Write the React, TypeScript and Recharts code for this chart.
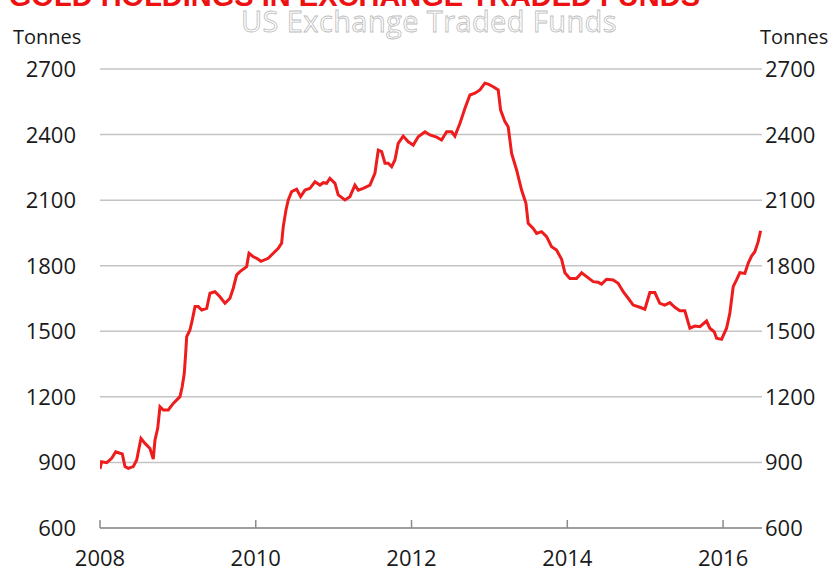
import React from 'react';
import { LineChart, Line, XAxis, YAxis, CartesianGrid } from 'recharts';

// time in fractional years, holdings in tonnes
const dates = [
  2008.0, 2008.02, 2008.086, 2008.15, 2008.202, 2008.257, 2008.286, 2008.321, 2008.363, 2008.427,
  2008.471, 2008.526, 2008.578, 2008.642, 2008.684, 2008.706, 2008.741, 2008.77, 2008.813, 2008.877,
  2008.941, 2009.027, 2009.056, 2009.082, 2009.1, 2009.113, 2009.155, 2009.185, 2009.22, 2009.262,
  2009.306, 2009.37, 2009.412, 2009.476, 2009.54, 2009.605, 2009.669, 2009.711, 2009.755, 2009.797,
  2009.883, 2009.913, 2009.968, 2010.012, 2010.067, 2010.16, 2010.225, 2010.289, 2010.332, 2010.353,
  2010.388, 2010.417, 2010.461, 2010.525, 2010.576, 2010.632, 2010.696, 2010.76, 2010.824, 2010.867,
  2010.91, 2010.952, 2011.017, 2011.059, 2011.145, 2011.209, 2011.273, 2011.316, 2011.38, 2011.466,
  2011.53, 2011.573, 2011.616, 2011.659, 2011.701, 2011.745, 2011.787, 2011.829, 2011.893, 2011.958,
  2012.022, 2012.086, 2012.172, 2012.236, 2012.322, 2012.386, 2012.451, 2012.515, 2012.557, 2012.621,
  2012.686, 2012.75, 2012.814, 2012.878, 2012.942, 2012.985, 2013.049, 2013.113, 2013.144, 2013.199,
  2013.241, 2013.285, 2013.349, 2013.413, 2013.469, 2013.498, 2013.562, 2013.606, 2013.67, 2013.734,
  2013.798, 2013.862, 2013.927, 2013.969, 2014.033, 2014.119, 2014.184, 2014.248, 2014.333, 2014.397,
  2014.44, 2014.504, 2014.589, 2014.653, 2014.718, 2014.782, 2014.846, 2014.932, 2014.996, 2015.06,
  2015.124, 2015.188, 2015.253, 2015.317, 2015.381, 2015.445, 2015.509, 2015.574, 2015.638, 2015.702,
  2015.788, 2015.83, 2015.886, 2015.917, 2015.981, 2016.045, 2016.087, 2016.13, 2016.173, 2016.216,
  2016.28, 2016.322, 2016.366, 2016.408, 2016.451, 2016.482,
];

const tonnes = [
  870, 903, 899, 919, 949, 942, 939, 881, 873, 881,
  911, 1010, 987, 964, 915, 1003, 1056, 1155, 1140, 1140,
  1170, 1201, 1247, 1308, 1399, 1475, 1506, 1552, 1613, 1613,
  1597, 1605, 1674, 1681, 1658, 1628, 1651, 1697, 1758, 1773,
  1796, 1857, 1841, 1834, 1820, 1834, 1857, 1880, 1903, 1979,
  2055, 2101, 2139, 2150, 2116, 2146, 2154, 2184, 2169, 2180,
  2177, 2200, 2177, 2124, 2101, 2116, 2169, 2146, 2154, 2169,
  2223, 2329, 2322, 2269, 2269, 2253, 2284, 2360, 2393, 2367,
  2352, 2390, 2413, 2398, 2388, 2375, 2413, 2413, 2393, 2451,
  2520, 2581, 2589, 2604, 2635, 2631, 2619, 2604, 2512, 2459,
  2436, 2314, 2238, 2146, 2086, 1994, 1971, 1948, 1956, 1933,
  1887, 1872, 1829, 1768, 1742, 1742, 1768, 1750, 1727, 1724,
  1716, 1738, 1735, 1720, 1681, 1651, 1620, 1610, 1601, 1677,
  1677, 1628, 1620, 1631, 1610, 1594, 1594, 1514, 1524, 1521,
  1547, 1514, 1498, 1468, 1463, 1514, 1582, 1704, 1735, 1768,
  1765, 1811, 1844, 1864, 1910, 1960,
];

const yearTicks = [2008, 2010, 2012, 2014, 2016];
const tonneTicks = [600, 900, 1200, 1500, 1800, 2100, 2400, 2700];

const title = 'GOLD HOLDINGS IN EXCHANGE TRADED FUNDS';
const subtitle = 'US Exchange Traded Funds';
const unit = 'Tonnes';

const data = dates.map((t, i) => ({ t, tonnes: tonnes[i] }));

const FONT = '"Open Sans", sans-serif';
const TEXT = '#1a1a1a';

const YearTick = (props: any) => {
  const { x, y, payload } = props;
  return (
    <g>
      <line x1={x} x2={x} y1={y} y2={y - 8} stroke="#8c8c8c" strokeWidth={1.5} />
      <text x={x} y={y + 38} textAnchor="middle" fontFamily={FONT} fontSize={22} fill={TEXT}>
        {payload.value}
      </text>
    </g>
  );
};

const LeftTick = (props: any) => {
  const { x, y, payload } = props;
  return (
    <text x={x - 24} y={y + 8} textAnchor="end" fontFamily={FONT} fontSize={22} fill={TEXT}>
      {payload.value}
    </text>
  );
};

const RightTick = (props: any) => {
  const { x, y, payload } = props;
  return (
    <text x={x + 3} y={y + 8} textAnchor="start" fontFamily={FONT} fontSize={22} fill={TEXT}>
      {payload.value}
    </text>
  );
};

export default function App() {
  return (
    <div style={{ position: 'absolute', left: 0, top: 0, width: 840, height: 571, overflow: 'hidden', background: '#fff' }}>
      <LineChart width={840} height={571} data={data} margin={{ top: 69, right: 0, bottom: 0, left: 0 }}>
        <CartesianGrid vertical={false} stroke="#c4c4c4" strokeWidth={1.5} yAxisId="left" />
        <XAxis
          dataKey="t"
          type="number"
          domain={[2008, 2016.5]}
          ticks={yearTicks}
          height={43}
          tickSize={0}
          tickMargin={0}
          tickLine={false}
          axisLine={{ stroke: '#8c8c8c', strokeWidth: 1.5 }}
          tick={<YearTick />}
          allowDataOverflow
        />
        <YAxis
          yAxisId="left"
          domain={[600, 2700]}
          ticks={tonneTicks}
          width={100}
          axisLine={false}
          tickLine={false}
          tickSize={0}
          tickMargin={0}
          tick={<LeftTick />}
        />
        <YAxis
          yAxisId="right"
          orientation="right"
          domain={[600, 2700]}
          ticks={tonneTicks}
          width={78}
          axisLine={false}
          tickLine={false}
          tickSize={0}
          tickMargin={0}
          tick={<RightTick />}
        />
        {/* same series bound to the right axis, invisible, so its ticks render */}
        <Line
          yAxisId="right"
          type="linear"
          dataKey="tonnes"
          stroke="none"
          strokeWidth={0}
          dot={false}
          activeDot={false}
          isAnimationActive={false}
        />
        <Line
          yAxisId="left"
          type="linear"
          dataKey="tonnes"
          stroke="#ee1c1c"
          strokeWidth={3}
          dot={false}
          isAnimationActive={false}
        />
      </LineChart>
      <svg width={840} height={571} style={{ position: 'absolute', left: 0, top: 0, pointerEvents: 'none' }}>
        <text x={700} y={6} textAnchor="end" fontFamily='"Liberation Sans", Arial, sans-serif' fontWeight="bold" fontSize={29} fill="#ee1111">
          {title}
        </text>
        <text x={429} y={32} textAnchor="middle" fontFamily={FONT} fontSize={29} letterSpacing={0.4} fill="#ffffff" stroke="#bcbcbc" strokeWidth={0.8}>
          {subtitle}
        </text>
        <text x={13} y={44} fontFamily={FONT} fontSize={20} fill={TEXT}>{unit}</text>
        <text x={760} y={44} fontFamily={FONT} fontSize={20} fill={TEXT}>{unit}</text>
      </svg>
    </div>
  );
}
